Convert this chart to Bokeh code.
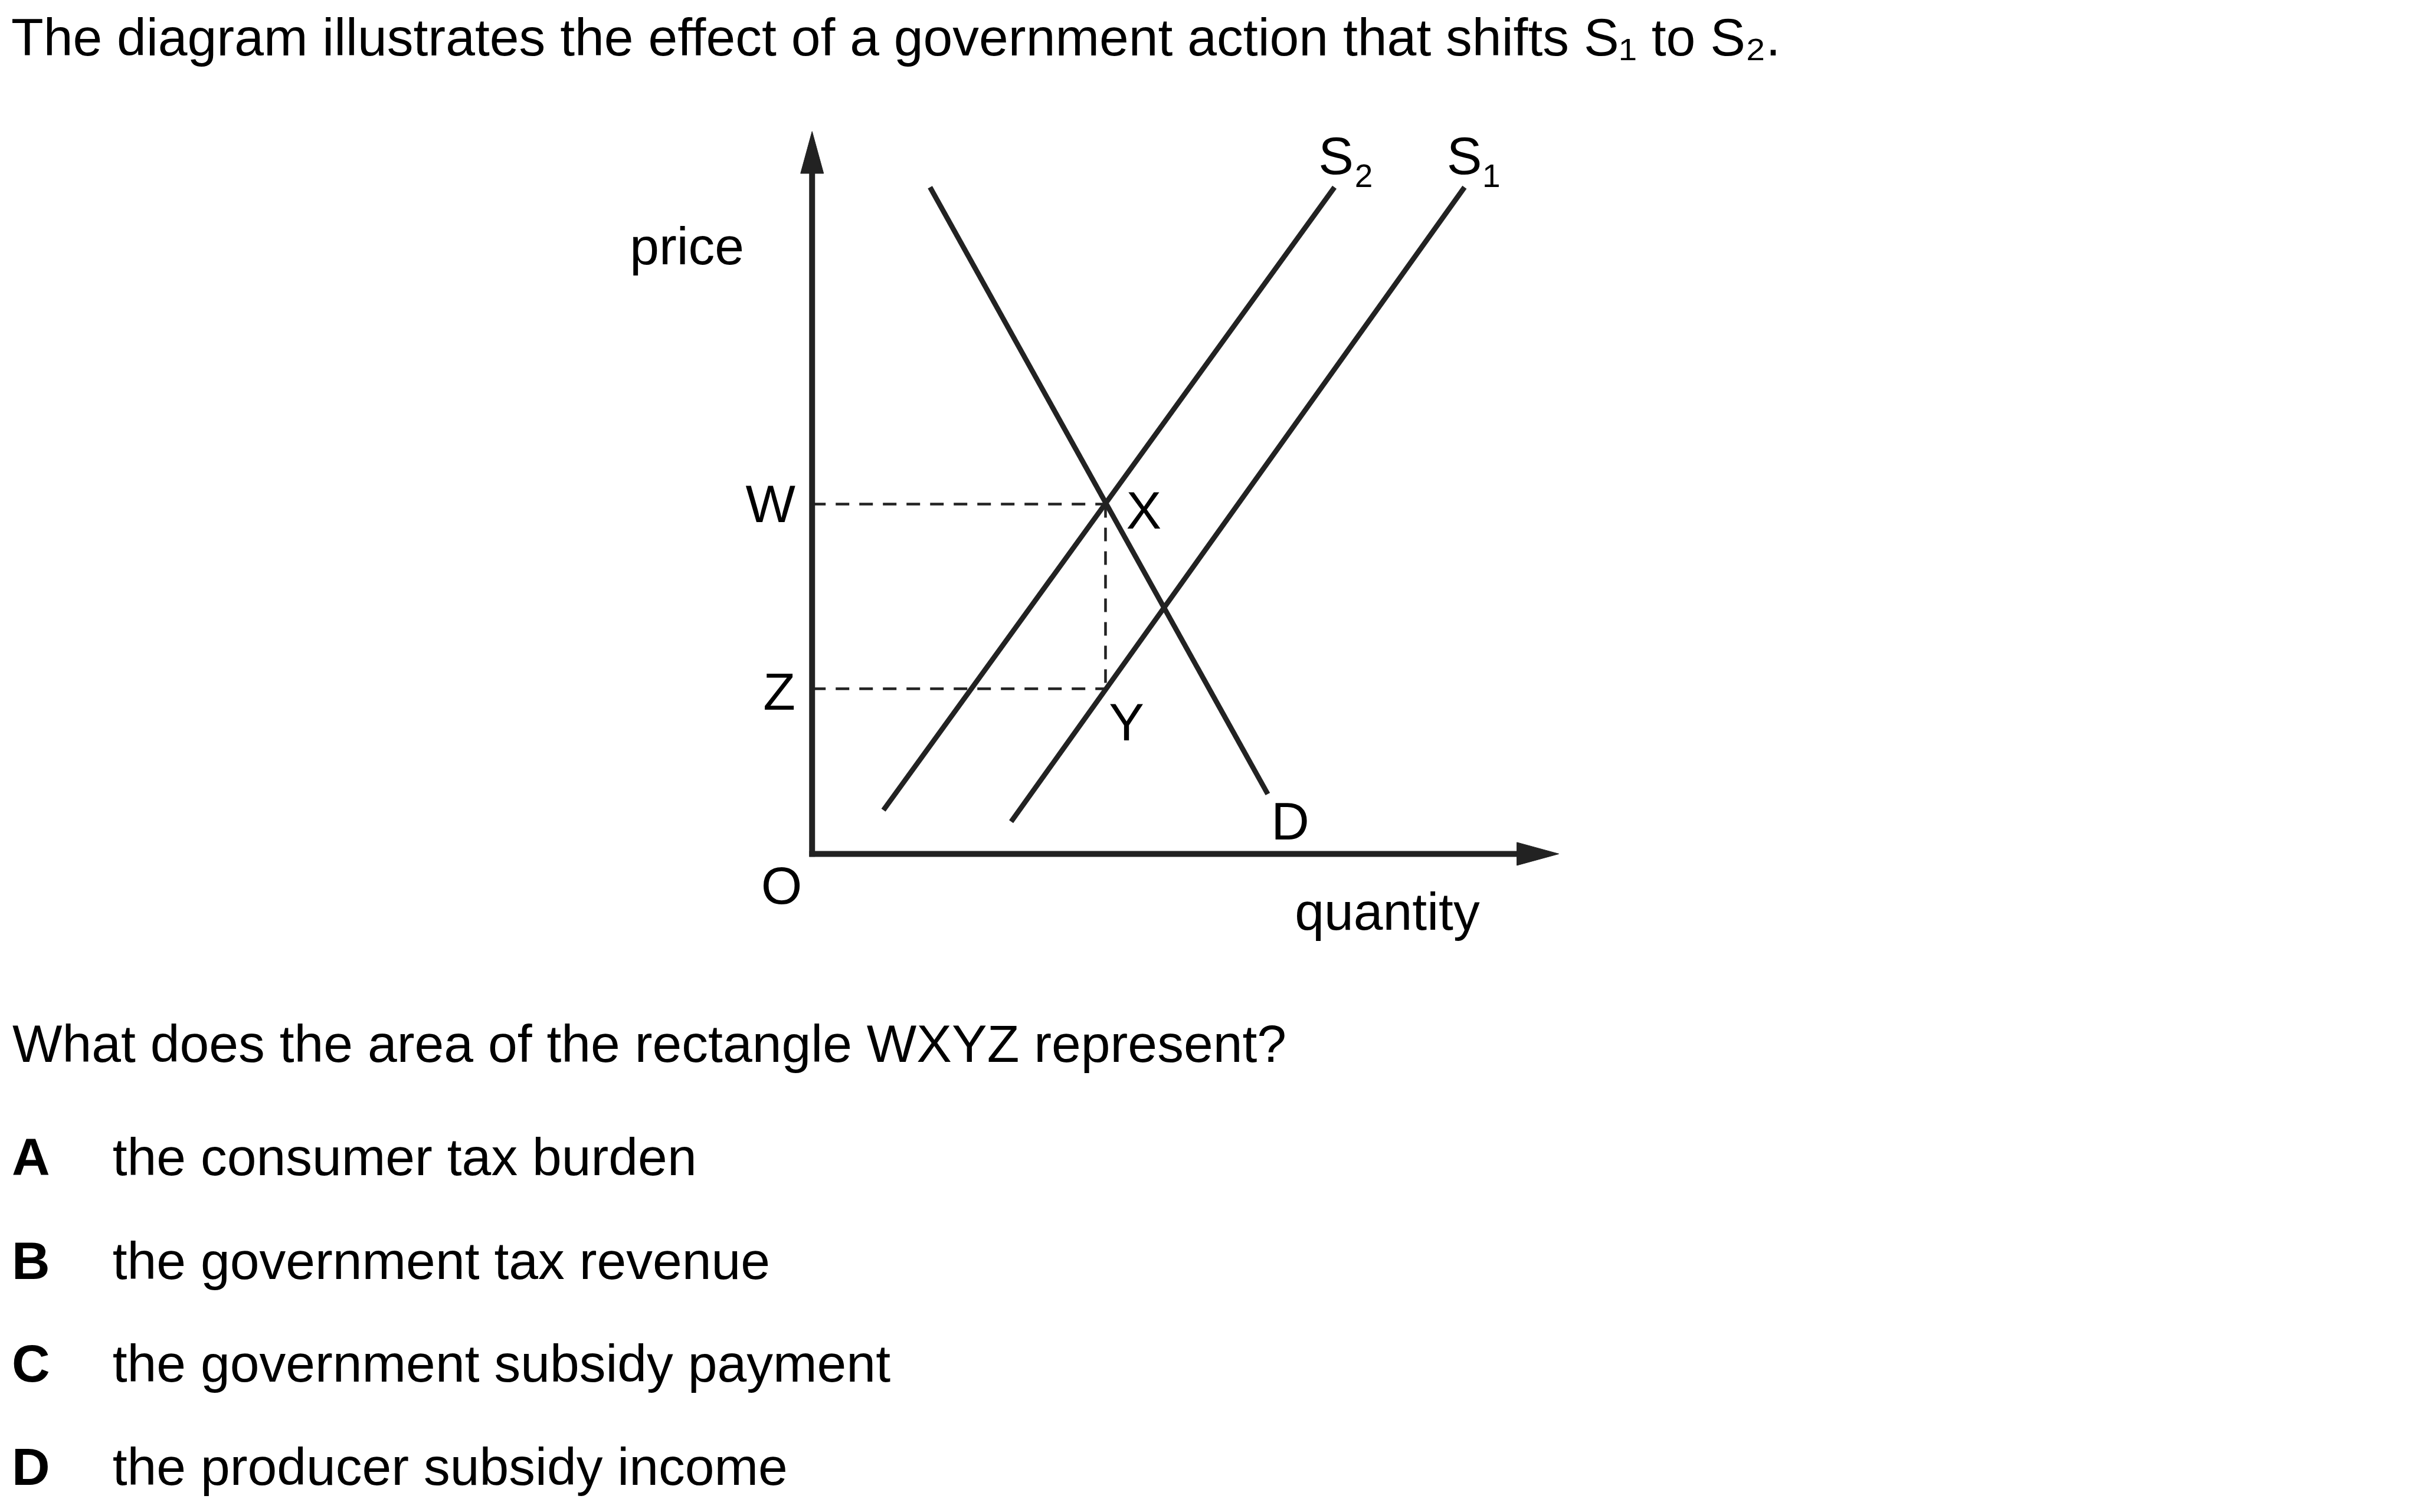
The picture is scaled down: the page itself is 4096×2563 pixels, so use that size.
from bokeh.plotting import figure
from bokeh.models import Range1d
from bokeh.core.properties import value
from bokeh.embed import file_html
from bokeh.resources import INLINE

# ---------------- data (abstract diagram units, origin O = (0, 0)) ----------------
demand_q = [20.5, 79.2]
demand_p = [115.9, 10.4]
s1_q = [34.6, 113.4]
s1_p = [5.6, 115.9]
s2_q = [12.4, 90.8]
s2_p = [7.6, 115.9]
price_W = 60.8        # price at X (with S2)
price_Z = 28.7        # price at Y (on S1)
quantity_X = 51.0     # quantity at new equilibrium
axis_y_max = 125.6    # arrow tip of price axis
axis_x_max = 129.8    # arrow tip of quantity axis
arrow_len = 7.3
arrow_half = 2.0

title = "The diagram illustrates the effect of a government action that shifts S\u2081 to S\u2082."
question = "What does the area of the rectangle WXYZ represent?"
option_letters = ["A", "B", "C", "D"]
option_texts = ["the consumer tax burden", "the government tax revenue",
                "the government subsidy payment", "the producer subsidy income"]

# ---------------- layout ----------------
SCALE = 0.975
OFF = 0
U = 10.0                 # reference pixels per diagram unit
ORIGIN_X, ORIGIN_Y = 1411.0, 1484.0   # origin position in reference pixels
W, H = 4080, 2547
TXT_DY = 2.9             # baseline correction for text rendering (at main font size)

x0 = (OFF / SCALE - ORIGIN_X) / U
x1 = ((OFF + W) / SCALE - ORIGIN_X) / U
y_top = (ORIGIN_Y - OFF / SCALE) / U
y_bot = (ORIGIN_Y - (OFF + H) / SCALE) / U

FONT = value("Liberation Sans")
FS_MAIN = 89.5
FS_SUBSCRIPT = 55.0
INK = "#000000"
LINE = "#222222"

p = figure(width=W, height=H, x_range=Range1d(x0, x1), y_range=Range1d(y_bot, y_top),
           output_backend="svg", toolbar_location=None, min_border=0,
           x_axis_type=None, y_axis_type=None)
p.grid.visible = False
p.outline_line_color = None
p.background_fill_color = "white"
p.border_fill_color = "white"

# axes with arrowheads
p.line([0, 0], [-0.5, axis_y_max - arrow_len + 0.5], line_color=LINE, line_width=10)
p.line([-0.5, axis_x_max - arrow_len + 0.5], [0, 0], line_color=LINE, line_width=10)
p.patch([-arrow_half, arrow_half, 0],
        [axis_y_max - arrow_len, axis_y_max - arrow_len, axis_y_max],
        fill_color=LINE, line_color=LINE, line_width=1)
p.patch([axis_x_max - arrow_len, axis_x_max - arrow_len, axis_x_max],
        [-arrow_half, arrow_half, 0],
        fill_color=LINE, line_color=LINE, line_width=1)

# curves
for qs, ps in [(demand_q, demand_p), (s1_q, s1_p), (s2_q, s2_p)]:
    p.line(qs, ps, line_color=LINE, line_width=8.7)

# dashed rectangle guides
DASH = "23 17"
p.line([0, quantity_X], [price_W, price_W], line_color=LINE, line_width=4.5, line_dash=DASH)
p.line([0, quantity_X], [price_Z, price_Z], line_color=LINE, line_width=4.5, line_dash=DASH)
p.line([quantity_X, quantity_X], [price_W, price_Z], line_color=LINE, line_width=4.5, line_dash=DASH)


def txt(x, y, s, align="left", size=FS_MAIN, style="normal"):
    dy = TXT_DY * size / FS_MAIN
    p.text(x=[x], y=[y + dy], text=[s], text_font=FONT, text_font_size=f"{size}px",
           text_font_style=style, text_color=INK, text_align=align,
           text_baseline="alphabetic")


# chart labels
txt(-31.7, 102.8, "price")
txt(-2.9, 58.0, "W", align="right")
txt(-2.9, 25.3, "Z", align="right")
txt(-5.3, -8.4, "O", align="center")
txt(54.6, 56.8, "X")
txt(51.6, 20.0, "Y")
txt(79.8, 2.8, "D")
txt(83.9, -12.9, "quantity")
txt(88.0, 118.5, "S")
txt(94.3, 116.1, "2", size=FS_SUBSCRIPT)
txt(110.3, 118.5, "S")
txt(116.5, 116.1, "1", size=FS_SUBSCRIPT)

# title / question / options
txt(-139.2, 139.1, title)
txt(-139.0, -35.9, question)
opt_y = [-55.6, -73.6, -91.5, -109.4]
for letter, text, yy in zip(option_letters, option_texts, opt_y):
    txt(-139.1, yy, letter, style="bold")
    txt(-121.6, yy, text)

open("out.html", "w").write(file_html(p, INLINE))
